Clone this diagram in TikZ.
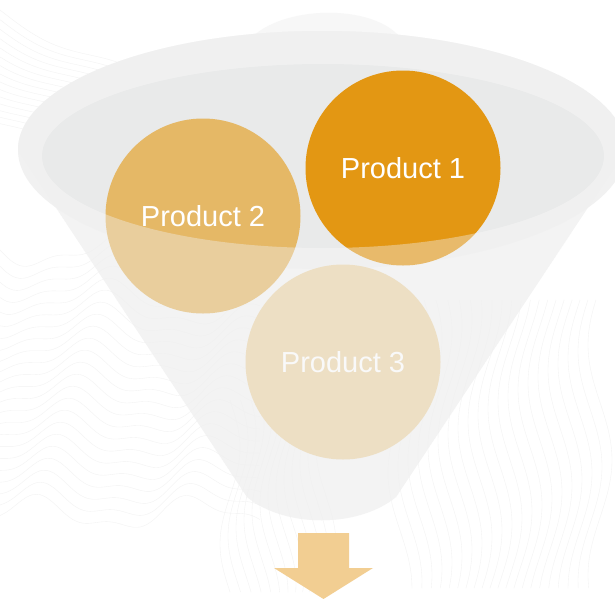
\documentclass[tikz,border=0pt]{standalone}
\usepackage{fontspec}
\setmainfont{Liberation Sans}
\definecolor{pone}{RGB}{227,151,19}
\definecolor{ptwo}{RGB}{229,184,102}
\definecolor{pthree}{RGB}{236,212,167}
\definecolor{veil}{RGB}{240,240,240}
\definecolor{innerc}{RGB}{233,234,234}
\definecolor{outerc}{RGB}{241,241,241}
\definecolor{arrowc}{RGB}{242,206,146}
\begin{document}
\begin{tikzpicture}[x=1pt,y=-1pt,
  prod/.style={circle,minimum size=195pt,inner sep=0pt,text=white,font=\fontsize{29}{34}\selectfont},
  wave/.style={draw=black!5,line width=0.35pt}]
\useasboundingbox (0,0) rectangle (615,598);
\fill[white] (0,0) rectangle (615,598);
% faint background contour lines
\begin{scope}
\clip (0,0) rectangle (615,598);
\foreach \i in {0,...,22}{
  \draw[wave] plot[smooth,domain=0:260,samples=40] (\x,{250+12*\i+14*sin(\x*2.2+\i*9)+6*sin(\x*5+\i*20)});
}
\foreach \i in {0,...,14}{
  \draw[wave] plot[smooth,domain=0:200,samples=30] (\x,{10+8*\i+0.5*\x+8*sin(\x*2+\i*12)});
}
\foreach \i in {0,...,20}{
  \draw[wave] plot[smooth,domain=0:180,samples=30] ({400+10*\i+12*sin(\x*2.5+\i*10)},{300+1.6*\x});
}
\foreach \i in {0,...,12}{
  \draw[wave] plot[smooth,domain=0:120,samples=30] ({230+8*\i+10*sin(\x*3+\i*15)},{400+1.6*\x});
}
\end{scope}
% faint arch at top
\fill[black!3] (245,45) .. controls (275,2) and (385,2) .. (405,45) -- cycle;
% funnel
\coordinate (cl) at (18,150);
\coordinate (cr) at (626,150);
\coordinate (bl) at (247,497);
\coordinate (br) at (396,497);
\path[fill=black!5,fill opacity=0.75] (cl) -- (bl) .. controls (285,528) and (358,528) .. (br) -- (cr)
  arc[start angle=0,end angle=180,x radius=304pt,y radius=119pt] -- cycle;
\fill[outerc] (322,150) ellipse[x radius=304pt,y radius=119pt];
\fill[innerc] (323,156) ellipse[x radius=281pt,y radius=92pt];
% products
\node[prod,fill=pone] (p1) at (403,168) {Product 1};
\node[prod,fill=ptwo] (p2) at (203,216) {Product 2};
\node[prod,fill=pthree] (p3) at (343,362) {Product 3};
% front of funnel (translucent)
\path[fill=veil,fill opacity=0.4,even odd rule]
  (cl) -- (bl) .. controls (285,528) and (358,528) .. (br) -- (cr)
  arc[start angle=0,end angle=180,x radius=304pt,y radius=119pt] -- cycle
  (323,156) ellipse[x radius=281pt,y radius=92pt];
% arrow
\fill[arrowc] (298,533) -- (349,533) -- (349,568) -- (373,568)
  -- (323.5,599) -- (274,568) -- (298,568) -- cycle;
\end{tikzpicture}
\end{document}
